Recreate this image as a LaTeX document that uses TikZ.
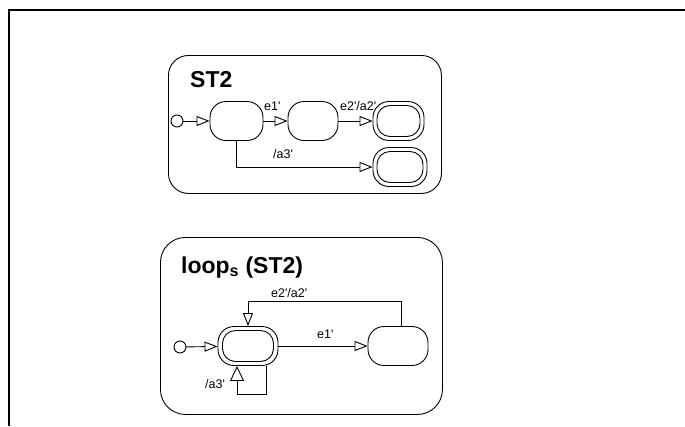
\documentclass[tikz,border=0pt]{standalone}
\usepackage{fontspec}
\setmainfont{Liberation Sans}
\usetikzlibrary{arrows.meta}
\newcommand\apos{\textquotesingle}
\begin{document}
\begin{tikzpicture}[x=1pt,y=-1pt,
  frame/.style={line width=1.4pt},
  box/.style={draw, line width=0.9pt, rounded corners=20pt, inner sep=0pt, anchor=north west},
  st/.style={draw, line width=0.9pt, rounded corners=16pt, inner sep=0pt, minimum height=39pt},
  sti/.style={draw, line width=0.9pt, rounded corners=13pt, inner sep=0pt, minimum height=31pt},
  init/.style={draw, circle, line width=0.9pt, minimum size=12pt, inner sep=0pt},
  arr/.style={line width=0.9pt, -{Triangle[open, length=13pt, width=10pt, line width=0.9pt]}},
  bigarr/.style={line width=0.9pt, -{Triangle[open, length=15pt, width=14pt, line width=0.9pt]}},
  lbl/.style={font=\fontsize{12.5}{14}\selectfont, inner sep=0pt, anchor=base west},
  ttl/.style={font=\fontsize{23}{26}\selectfont\bfseries, inner sep=0pt, anchor=base west}
]
\useasboundingbox (0,0) rectangle (685,426);
\coordinate (fr1) at (685,10);
\coordinate (fr2) at (9,10);
\coordinate (fr3) at (9,426);
\draw[frame] (fr1) -- (fr2) -- (fr3);

% ---- ST2 ----
\node[box, minimum width=273pt, minimum height=138pt] (b1) at (168,55) {};
\node[ttl] (t1) at (190,87) {ST2};
\node[init] (i1) at (177,121) {};
\node[st, minimum width=53pt] (s1) at (236.5,121) {};
\node[st, minimum width=50pt] (s2) at (313,121) {};
\node[st, minimum width=51pt] (f1) at (398.5,121) {};
\node[sti, minimum width=43pt] (f1i) at (398.5,121) {};
\node[st, minimum width=54pt] (f2) at (400,167) {};
\node[sti, minimum width=46pt] (f2i) at (400,167) {};
\draw[arr] (i1) -- (s1);
\draw[arr] (s1) -- (s2);
\draw[arr] (s2) -- (f1);
\draw[arr] (s1.south) |- (f2.west);
\node[lbl] (l1) at (264,110) {e1\apos};
\node[lbl] (l2) at (340,110) {e2\apos/a2\apos};
\node[lbl] (l3) at (273,158) {/a3\apos};

% ---- loop_s(ST2) ----
\node[box, rounded corners=25pt, minimum width=282pt, minimum height=177pt] (b2) at (160,237) {};
\node[ttl] (t2) at (181,273) {loop\textsubscript{s} (ST2)};
\node[init] (i2) at (180,347) {};
\node[st, minimum width=60pt] (d) at (248,346) {};
\node[sti, minimum width=51pt] (di) at (248,346) {};
\node[st, minimum width=60pt] (r) at (398,346) {};
\coordinate (c1) at (401,301);
\coordinate (c2) at (266,394);
\coordinate (c3) at (237,394);
\draw[arr] (i2) -- (d);
\draw[arr] (d) -- (r);
\draw[arr] (r.north -| c1) -- (c1) -| (d.north);
\draw[bigarr] (d.south -| c2) -- (c2) -- (c3) -- (d.south -| c3);
\node[lbl] (l4) at (317,338) {e1\apos};
\node[lbl] (l5) at (271,297) {e2\apos/a2\apos};
\node[lbl] (l6) at (205,388) {/a3\apos};
\end{tikzpicture}
\end{document}
